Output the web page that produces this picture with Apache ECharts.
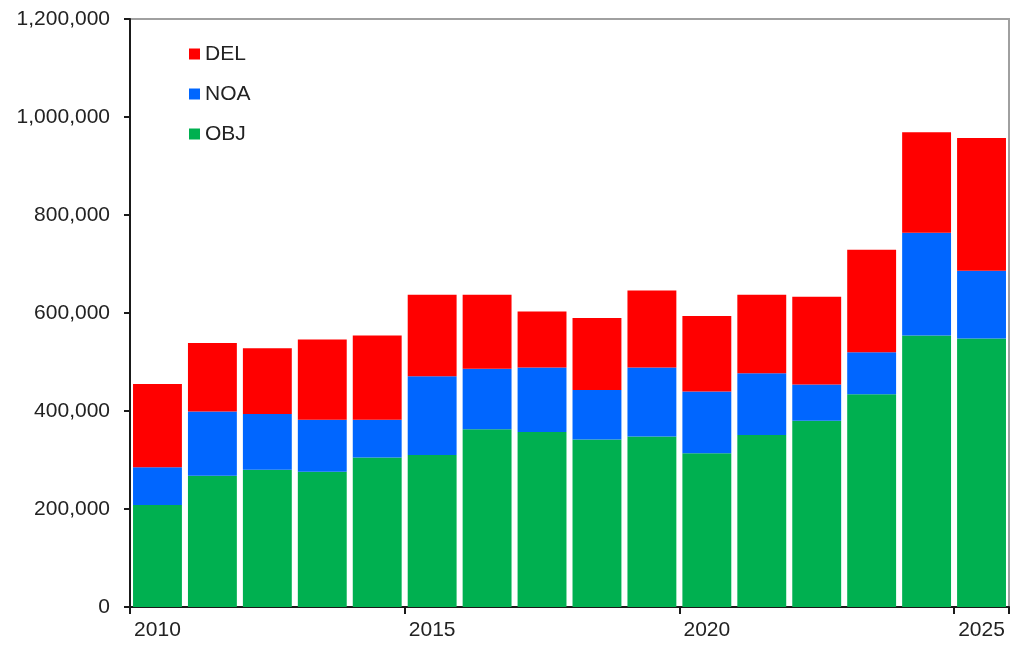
<!DOCTYPE html>
<html>
<head>
<meta charset="utf-8">
<script src="https://cdn.jsdelivr.net/npm/echarts@6/dist/echarts.min.js"></script>
<style>
  html, body { margin: 0; padding: 0; background: #fff; }
  #chart { width: 1011px; height: 647px; }
</style>
</head>
<body>
<div id="chart"></div>
<script>
const years = ['2010', '2011', '2012', '2013', '2014', '2015', '2016', '2017',
  '2018', '2019', '2020', '2021', '2022', '2023', '2024', '2025']

// stacked from the bottom: OBJ, NOA, DEL
const objValues = [208000, 268000, 280000, 276000, 305000, 310000, 363000, 357000,
  342000, 348000, 314000, 351000, 380000, 434000, 554000, 548000]
const noaValues = [77000, 131000, 114000, 106000, 77000, 161000, 123000, 132000,
  101000, 141000, 126000, 126000, 74000, 86000, 210000, 138000]
const delValues = [170000, 140000, 134000, 164000, 172000, 166000, 151000, 114000,
  147000, 157000, 154000, 160000, 179000, 209000, 205000, 271000]

const yTicks = [0, 200000, 400000, 600000, 800000, 1000000, 1200000]

const font = '"Liberation Sans", Arial, sans-serif'
const textColor = '#222'

const chart = echarts.init(document.getElementById('chart'))

const bar = (name, color, data) => ({
  name,
  type: 'bar',
  stack: 'total',
  barCategoryGap: '11%',
  itemStyle: { color },
  emphasis: { disabled: true },
  data
})

chart.setOption({
  animation: false,
  textStyle: { fontFamily: font },
  grid: {
    left: 130, right: 2, top: 19, bottom: 40,
    show: true, borderColor: '#a0a0a0', borderWidth: 2, backgroundColor: 'transparent'
  },
  legend: {
    orient: 'vertical',
    left: 189,
    top: 43,
    padding: 0,
    icon: 'rect',
    itemWidth: 11,
    itemHeight: 11,
    itemGap: 18,
    data: ['DEL', 'NOA', 'OBJ'],
    textStyle: { fontSize: 21, color: textColor, fontFamily: font, lineHeight: 22 }
  },
  xAxis: {
    type: 'category',
    data: years,
    boundaryGap: true,
    axisLine: { lineStyle: { color: '#1a1a1a', width: 2 } },
    axisTick: { show: true, interval: 4, length: 7, lineStyle: { color: '#1a1a1a', width: 2 } },
    axisLabel: { interval: 4, margin: 13, fontSize: 21, color: textColor, fontFamily: font },
    splitLine: { show: false }
  },
  yAxis: {
    type: 'value',
    min: yTicks[0],
    max: yTicks[yTicks.length - 1],
    interval: yTicks[1] - yTicks[0],
    axisLine: { show: true, lineStyle: { color: '#1a1a1a', width: 2 } },
    axisTick: { show: true, length: 6, lineStyle: { color: '#1a1a1a', width: 2 } },
    axisLabel: {
      margin: 20, fontSize: 21, color: textColor, fontFamily: font,
      formatter: v => v.toLocaleString('en-US')
    },
    splitLine: { show: false }
  },
  series: [
    bar('OBJ', '#00B050', objValues),
    bar('NOA', '#0066FF', noaValues),
    bar('DEL', '#FF0000', delValues)
  ]
})
</script>
</body>
</html>
